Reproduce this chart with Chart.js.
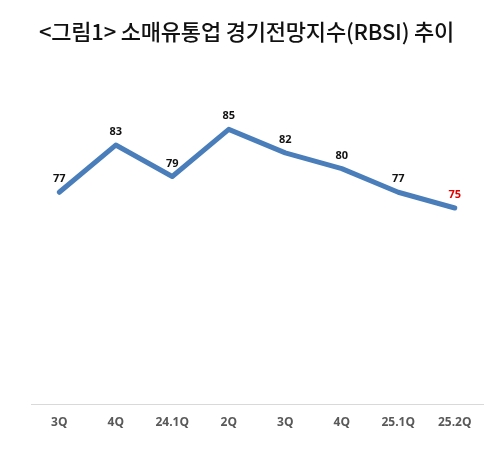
<!DOCTYPE html>
<html>
<head>
<meta charset="utf-8">
<script src="https://cdn.jsdelivr.net/npm/chart.js@4"></script>
<style>
  html, body { margin: 0; padding: 0; background: #fff; }
  #wrap { position: relative; width: 487px; height: 451px; }
  #title {
    position: absolute; left: 3px; top: 16px; width: 487px;
    text-align: center; color: #111;
    font-family: "Noto Sans CJK KR", sans-serif; font-size: 22px; font-weight: 500;
    line-height: 28px; letter-spacing: -0.2px;
  }
</style>
</head>
<body>
<div id="wrap">
  <div id="title">&lt;그림1&gt; 소매유통업 경기전망지수(RBSI) 추이</div>
  <canvas id="myChart"></canvas>
</div>
<script>
// quarters on the x axis
const quarters = ['3Q', '4Q', '24.1Q', '2Q', '3Q', '4Q', '25.1Q', '25.2Q'];
// RBSI values
const rbsiValues = [77, 83, 79, 85, 82, 80, 77, 75];
// label colours (last one highlighted in red)
const labelColors = ['#111', '#111', '#111', '#111', '#111', '#111', '#111', '#e00000'];

// small plugin to draw the value above each point
const valueLabels = {
    id: 'valueLabels',
    afterDatasetsDraw(chart) {
        const ctx = chart.ctx;
        const meta = chart.getDatasetMeta(0);
        ctx.save();
        ctx.font = 'bold 11px "Open Sans", sans-serif';
        ctx.textAlign = 'center';
        ctx.textBaseline = 'middle';
        meta.data.forEach((pt, i) => {
            ctx.fillStyle = labelColors[i];
            ctx.fillText(rbsiValues[i], pt.x, pt.y - 13);
        });
        ctx.restore();
    }
};

const config = {
    type: 'line',
    data: {
        labels: quarters,
        datasets: [{
            label: 'RBSI',
            data: rbsiValues,
            borderColor: '#4a7ebb',
            borderWidth: 5,
            borderCapStyle: 'round',
            borderJoinStyle: 'round',
            tension: 0,
            fill: false,
            pointRadius: 0
        }]
    },
    options: {
        responsive: true,
        maintainAspectRatio: false,
        animation: false,
        layout: {
            padding: { left: 31, right: 4, top: 90, bottom: 10 }
        },
        scales: {
            x: {
                offset: true,
                grid: { display: false, drawTicks: false },
                border: { display: true, color: '#d9d9d9', width: 1 },
                ticks: {
                    color: '#595959',
                    padding: 11,
                    maxRotation: 0,
                    autoSkip: false,
                    font: { family: '"Open Sans", sans-serif', size: 12, weight: 'bold' }
                }
            },
            y: {
                display: false,
                min: 50,
                max: 90
            }
        },
        plugins: {
            legend: { display: false },
            tooltip: { enabled: false },
            title: { display: false }
        }
    },
    plugins: [valueLabels]
};

const myChart = new Chart(document.getElementById('myChart'), config);
</script>
</body>
</html>
